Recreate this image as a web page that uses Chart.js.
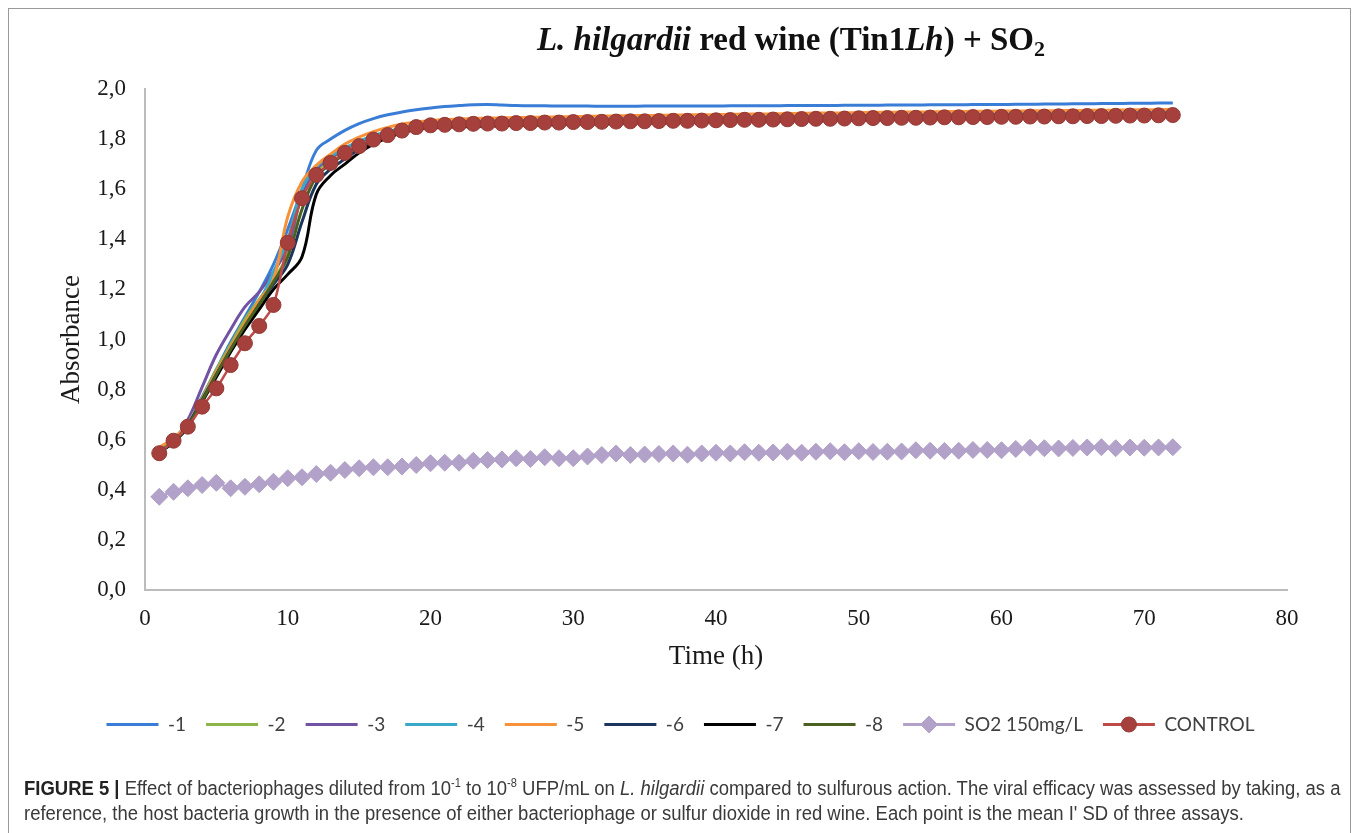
<!DOCTYPE html>
<html lang="en">
<head>
    <meta charset="UTF-8">
    <title>L. hilgardii red wine (Tin1Lh) + SO2</title>
    <script src="https://cdn.jsdelivr.net/npm/chart.js"></script>
    <style>
        body {
            margin: 0;
            background: #ffffff;
            width: 1358px;
            height: 833px;
            position: relative;
            overflow: hidden;
        }

        #chart {
            position: absolute;
            left: 0;
            top: 0;
        }

        .frame {
            position: absolute;
            left: 8px;
            top: 8px;
            width: 1341px;
            height: 840px;
            border: 1px solid #9a9a9a;
            pointer-events: none;
        }

        .title {
            position: absolute;
            top: 21px;
            left: 0;
            width: 1582px;
            text-align: center;
            font-family: 'Liberation Serif', 'Times New Roman', serif;
            font-weight: bold;
            font-size: 33px;
            color: #111;
            white-space: nowrap;
        }

        .title sub {
            font-size: 22px;
            vertical-align: -6px;
            line-height: 0;
        }

        .caption {
            position: absolute;
            left: 24px;
            top: 776px;
            font-family: 'Liberation Sans', Arial, sans-serif;
            font-size: 20px;
            line-height: 25px;
            color: #3a3a3a;
            white-space: nowrap;
            transform: scaleX(0.924);
            transform-origin: 0 0;
        }

        .caption b {
            color: #222;
        }

        .caption sup {
            font-size: 12px;
            vertical-align: 8px;
            line-height: 0;
        }
    </style>
</head>
<body>
    <canvas id="chart" width="1358" height="760"></canvas>
    <div class="title"><i>L. hilgardii</i> red wine (Tin1<i>Lh</i>) + SO<sub>2</sub></div>
    <div class="frame"></div>
    <div class="caption">
        <b>FIGURE 5 |</b> Effect of bacteriophages diluted from 10<sup>-1</sup> to 10<sup>-8</sup> UFP/mL on <i>L. hilgardii</i> compared to sulfurous action. The viral efficacy was assessed by taking, as a<br>
        reference, the host bacteria growth in the presence of either bacteriophage or sulfur dioxide in red wine. Each point is the mean I' SD of three assays.
    </div>

    <script>
        // time points (h)
        const hours = [1,2,3,4,5,6,7,8,9,10,11,12,13,14,15,16,17,18,19,20,
            21,22,23,24,25,26,27,28,29,30,31,32,33,34,35,36,37,38,39,40,
            41,42,43,44,45,46,47,48,49,50,51,52,53,54,55,56,57,58,59,60,
            61,62,63,64,65,66,67,68,69,70,71,72];

        const xTickLabels = ['0', '10', '20', '30', '40', '50', '60', '70', '80'];
        const yTickLabels = ['0,0', '0,2', '0,4', '0,6', '0,8', '1,0', '1,2', '1,4', '1,6', '1,8', '2,0'];

        const seriesNames = ['-1', '-2', '-3', '-4', '-5', '-6', '-7', '-8', 'SO2 150mg/L', 'CONTROL'];
        const seriesColors = ['#3a7dd6', '#8db446', '#7252a2', '#3aa8c9', '#f7923a', '#1c355e', '#000000', '#4a6122', '#b2a1c8', '#be4b48'];

        const dil1 = [0.555,0.600,0.670,0.770,0.880,0.990,1.090,1.190,1.300,1.440,
            1.600,1.755,1.800,1.835,1.862,1.882,1.897,1.908,1.917,1.924,
            1.930,1.934,1.937,1.938,1.936,1.934,1.933,1.933,1.932,1.932,
            1.932,1.931,1.931,1.931,1.932,1.932,1.932,1.932,1.932,1.932,
            1.933,1.933,1.933,1.933,1.934,1.934,1.934,1.934,1.935,1.935,
            1.935,1.936,1.936,1.936,1.937,1.937,1.937,1.938,1.938,1.938,
            1.939,1.939,1.940,1.940,1.941,1.941,1.942,1.942,1.943,1.943,
            1.944,1.944];

        const dil2 = [0.555,0.590,0.660,0.770,0.880,0.980,1.080,1.160,1.240,1.340,
            1.580,1.670,1.720,1.760,1.790,1.810,1.828,1.842,1.852,1.858,
            1.861,1.863,1.865,1.866,1.866,1.868,1.868,1.870,1.870,1.872,
            1.872,1.873,1.874,1.875,1.875,1.876,1.877,1.877,1.878,1.879,
            1.880,1.881,1.881,1.882,1.883,1.884,1.885,1.885,1.886,1.887,
            1.888,1.888,1.889,1.889,1.890,1.891,1.891,1.892,1.892,1.893,
            1.893,1.894,1.894,1.895,1.895,1.896,1.896,1.897,1.898,1.898,
            1.899,1.900];

        const dil3 = [0.555,0.595,0.680,0.810,0.940,1.040,1.130,1.190,1.270,1.370,
            1.580,1.680,1.725,1.760,1.788,1.808,1.825,1.840,1.850,1.856,
            1.859,1.861,1.863,1.864,1.864,1.866,1.866,1.868,1.868,1.870,
            1.870,1.871,1.872,1.873,1.873,1.874,1.875,1.875,1.876,1.877,
            1.878,1.879,1.879,1.880,1.881,1.882,1.883,1.883,1.884,1.885,
            1.886,1.886,1.887,1.887,1.888,1.889,1.889,1.890,1.890,1.891,
            1.891,1.892,1.892,1.893,1.893,1.894,1.894,1.895,1.896,1.896,
            1.897,1.898];

        const dil4 = [0.560,0.600,0.665,0.770,0.870,0.970,1.060,1.150,1.270,1.400,
            1.600,1.690,1.730,1.765,1.790,1.815,1.830,1.845,1.856,1.862,
            1.869,1.871,1.873,1.874,1.875,1.876,1.877,1.878,1.878,1.880,
            1.880,1.881,1.882,1.883,1.883,1.884,1.885,1.885,1.886,1.887,
            1.888,1.889,1.889,1.890,1.891,1.892,1.893,1.893,1.894,1.895,
            1.896,1.896,1.897,1.897,1.898,1.899,1.899,1.900,1.900,1.901,
            1.901,1.902,1.902,1.903,1.903,1.904,1.904,1.905,1.906,1.906,
            1.907,1.908];

        const dil5 = [0.570,0.605,0.665,0.765,0.870,0.970,1.065,1.155,1.240,1.490,
            1.630,1.695,1.740,1.780,1.808,1.830,1.847,1.860,1.868,1.874,
            1.878,1.880,1.882,1.884,1.885,1.886,1.887,1.888,1.889,1.890,
            1.891,1.892,1.893,1.894,1.894,1.895,1.896,1.897,1.897,1.898,
            1.899,1.900,1.900,1.901,1.902,1.903,1.904,1.904,1.905,1.906,
            1.907,1.907,1.908,1.908,1.909,1.910,1.910,1.911,1.911,1.912,
            1.912,1.913,1.913,1.914,1.914,1.915,1.915,1.916,1.917,1.917,
            1.918,1.919];

        const dil6 = [0.550,0.590,0.660,0.760,0.860,0.960,1.050,1.140,1.220,1.300,
            1.470,1.620,1.680,1.720,1.760,1.790,1.810,1.828,1.840,1.848,
            1.853,1.855,1.857,1.858,1.858,1.860,1.860,1.862,1.862,1.864,
            1.864,1.865,1.866,1.867,1.867,1.868,1.869,1.869,1.870,1.871,
            1.872,1.873,1.873,1.874,1.875,1.876,1.877,1.877,1.878,1.879,
            1.880,1.880,1.881,1.881,1.882,1.883,1.883,1.884,1.884,1.885,
            1.885,1.886,1.886,1.887,1.887,1.888,1.888,1.889,1.890,1.890,
            1.891,1.892];

        const dil7 = [0.550,0.590,0.650,0.750,0.850,0.950,1.040,1.120,1.200,1.260,
            1.330,1.580,1.655,1.700,1.745,1.780,1.805,1.825,1.838,1.845,
            1.847,1.849,1.851,1.852,1.853,1.855,1.855,1.857,1.858,1.860,
            1.860,1.861,1.862,1.864,1.864,1.865,1.866,1.867,1.868,1.869,
            1.870,1.871,1.871,1.872,1.873,1.874,1.875,1.875,1.876,1.877,
            1.878,1.878,1.879,1.880,1.881,1.882,1.882,1.883,1.883,1.884,
            1.884,1.885,1.885,1.886,1.886,1.887,1.887,1.888,1.889,1.889,
            1.890,1.891];

        const dil8 = [0.552,0.592,0.655,0.755,0.860,0.960,1.055,1.140,1.230,1.330,
            1.520,1.650,1.700,1.740,1.770,1.796,1.815,1.832,1.845,1.852,
            1.855,1.857,1.859,1.860,1.860,1.862,1.862,1.864,1.864,1.866,
            1.866,1.867,1.868,1.869,1.869,1.870,1.871,1.871,1.872,1.873,
            1.874,1.875,1.875,1.876,1.877,1.878,1.879,1.879,1.880,1.881,
            1.882,1.882,1.883,1.883,1.884,1.885,1.885,1.886,1.886,1.887,
            1.887,1.888,1.888,1.889,1.889,1.890,1.890,1.891,1.892,1.892,
            1.893,1.894];

        const so2 = [0.372,0.392,0.406,0.419,0.428,0.406,0.412,0.422,0.432,0.446,
            0.450,0.463,0.468,0.479,0.486,0.490,0.490,0.493,0.499,0.506,
            0.508,0.508,0.516,0.519,0.521,0.526,0.523,0.530,0.526,0.526,
            0.533,0.539,0.545,0.539,0.541,0.543,0.545,0.540,0.545,0.548,
            0.545,0.550,0.548,0.549,0.552,0.548,0.552,0.554,0.550,0.554,
            0.551,0.552,0.553,0.558,0.556,0.555,0.556,0.559,0.559,0.558,
            0.563,0.568,0.566,0.565,0.567,0.569,0.570,0.566,0.569,0.568,
            0.569,0.570];

        const control = [0.546,0.596,0.652,0.732,0.805,0.898,0.985,1.054,1.138,1.386,
            1.564,1.657,1.705,1.745,1.772,1.798,1.816,1.834,1.848,1.855,
            1.857,1.859,1.861,1.862,1.862,1.864,1.864,1.866,1.866,1.868,
            1.868,1.869,1.870,1.871,1.871,1.872,1.873,1.873,1.874,1.875,
            1.876,1.877,1.877,1.878,1.879,1.880,1.881,1.881,1.882,1.883,
            1.884,1.884,1.885,1.885,1.886,1.887,1.887,1.888,1.888,1.889,
            1.889,1.890,1.890,1.891,1.891,1.892,1.892,1.893,1.894,1.894,
            1.895,1.896];

        const allSeries = [dil1, dil2, dil3, dil4, dil5, dil6, dil7, dil8, so2, control];

        function toPoints(values) {
            return values.map((v, i) => ({ x: hours[i], y: v }));
        }

        const datasets = allSeries.map((values, i) => {
            const ds = {
                label: seriesNames[i],
                data: toPoints(values),
                borderColor: seriesColors[i],
                backgroundColor: seriesColors[i],
                borderWidth: 3,
                pointRadius: 0,
                tension: 0.4,
                fill: false,
                order: 10 - i
            };
            if (i === 8) {
                ds.pointStyle = 'rectRot';
                ds.pointRadius = 8.5;
                ds.pointBorderWidth = 1;
                ds.borderWidth = 2.5;
                ds.tension = 0.3;
            }
            if (i === 9) {
                ds.pointStyle = 'circle';
                ds.pointRadius = 7.5;
                ds.pointBorderWidth = 1;
                ds.pointBackgroundColor = '#a6403c';
                ds.pointBorderColor = '#933834';
                ds.borderWidth = 2.5;
                ds.tension = 0.3;
            }
            return ds;
        });

        // legend sits centred on the page, not on the space left of the right padding
        const legendShift = 37;

        const legendMarkers = {
            id: 'legendMarkers',
            afterLayout(chart) {
                chart.legend.left += legendShift;
                chart.legend.right += legendShift;
            },
            afterDraw(chart) {
                // marker drawn over the legend line for the two marker series
                const ctx = chart.ctx;
                const boxes = chart.legend.legendHitBoxes;
                boxes.forEach((hb, i) => {
                    const ds = chart.data.datasets[i];
                    if (!ds.pointRadius) return;
                    ctx.save();
                    ctx.fillStyle = ds.pointBackgroundColor || ds.backgroundColor;
                    ctx.strokeStyle = ds.pointBorderColor || ds.borderColor;
                    ctx.lineWidth = 1;
                    Chart.helpers.drawPoint(ctx, {
                        pointStyle: ds.pointStyle,
                        radius: ds.pointRadius,
                        borderWidth: 1,
                        rotation: 0
                    }, hb.left + 26, hb.top + hb.height / 2);
                    ctx.restore();
                });
            }
        };

        const serif = "'Liberation Serif', 'Times New Roman', serif";

        new Chart(document.getElementById('chart'), {
            type: 'line',
            data: { datasets: datasets },
            plugins: [legendMarkers],
            options: {
                responsive: false,
                animation: false,
                layout: {
                    padding: { left: 0, right: 71, top: 89, bottom: 16 }
                },
                plugins: {
                    title: { display: false },
                    tooltip: { enabled: false },
                    legend: {
                        position: 'bottom',
                        labels: {
                            boxWidth: 52,
                            boxHeight: 3,
                            padding: 20,
                            color: '#404040',
                            font: { family: 'Lato', size: 19 },
                            generateLabels: chart => chart.data.datasets.map((ds, i) => ({
                                text: ds.label,
                                fillStyle: ds.borderColor,
                                strokeStyle: ds.borderColor,
                                lineWidth: 0,
                                hidden: false,
                                datasetIndex: i,
                                fontColor: '#404040'
                            }))
                        }
                    }
                },
                scales: {
                    x: {
                        type: 'linear',
                        min: 0,
                        max: 80,
                        afterFit: scale => { scale.height = 105; },
                        grid: { display: false, drawTicks: false },
                        border: { display: true, color: '#bcbcbc', width: 2 },
                        ticks: {
                            stepSize: 10,
                            padding: 15,
                            color: '#1a1a1a',
                            font: { family: serif, size: 23 },
                            maxRotation: 0,
                            callback: (value, index) => xTickLabels[index]
                        },
                        title: {
                            display: true,
                            text: 'Time (h)',
                            color: '#1a1a1a',
                            font: { family: serif, size: 27 },
                            padding: { top: 0, bottom: 22 }
                        }
                    },
                    y: {
                        min: 0,
                        max: 2,
                        afterFit: scale => { scale.width = 145; },
                        grid: { display: false, drawTicks: false },
                        border: { display: true, color: '#bcbcbc', width: 2 },
                        ticks: {
                            stepSize: 0.2,
                            padding: 19,
                            color: '#1a1a1a',
                            font: { family: serif, size: 23 },
                            callback: (value, index) => yTickLabels[index]
                        },
                        title: {
                            display: true,
                            text: 'Absorbance',
                            color: '#1a1a1a',
                            font: { family: serif, size: 27 },
                            padding: { top: 56, bottom: 0 }
                        }
                    }
                }
            }
        });
    </script>
</body>
</html>
